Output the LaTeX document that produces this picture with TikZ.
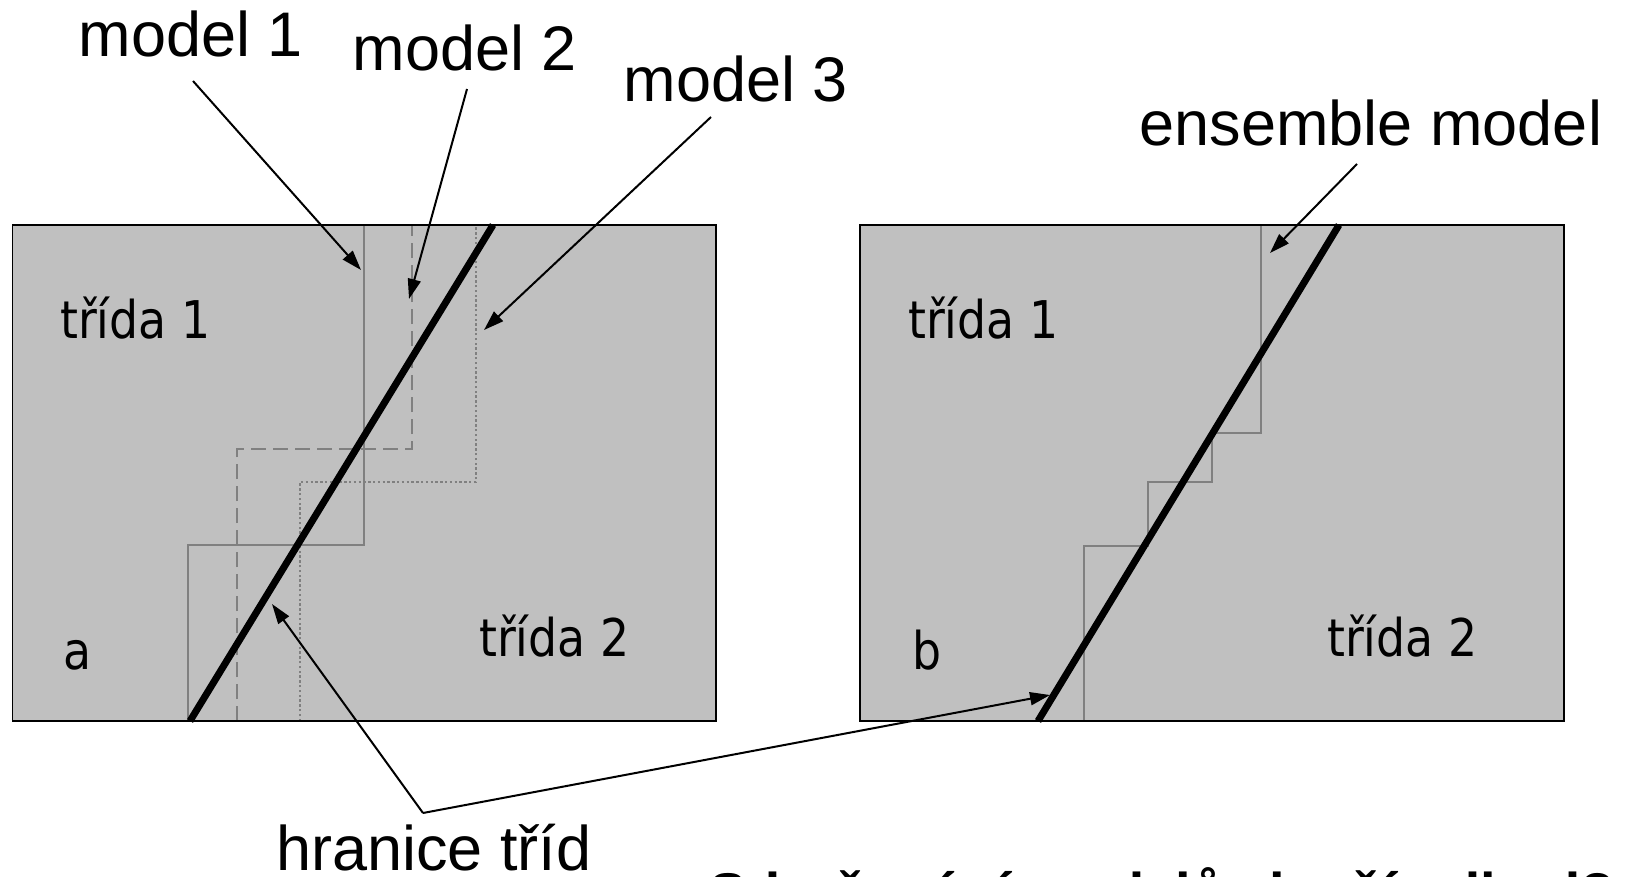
\documentclass[tikz,border=0pt]{standalone}
\usepackage{fontspec}
\setmainfont{Liberation Sans}
\newfontfamily\tahomalike[FakeStretch=0.88]{DejaVu Sans}
\usetikzlibrary{arrows.meta}
\definecolor{panelgray}{RGB}{192,192,192}
\definecolor{linegray}{RGB}{128,128,128}
\tikzset{
  lbl/.style={inner sep=0pt, anchor=base, font=\fontsize{63}{70}\selectfont},
  cls/.style={inner sep=0pt, anchor=base west, font=\tahomalike\fontsize{52}{60}\selectfont},
  panel/.style={fill=panelgray, draw=black, line width=1.5pt},
  boundary/.style={line width=7pt, black},
  modelline/.style={line width=2.8pt, linegray},
  modeldash/.style={modelline, dash pattern=on 15pt off 7pt},
  modeldot/.style={line width=2.4pt, linegray, dash pattern=on 2.4pt off 2.4pt},
  pointer/.style={line width=2pt, black, -{Triangle[length=20pt,width=13pt]}},
  plainline/.style={line width=2pt, black}
}
\begin{document}
\begin{tikzpicture}[x=1pt,y=-1pt]
\useasboundingbox (0,0) rectangle (1627,877);
\clip (0,0) rectangle (1627,877);
\fill[white] (0,0) rectangle (1627,877);
% panels
\draw[panel] (12.5,225) rectangle (716,721);
\draw[panel] (860,225) rectangle (1564,721);
% panel a: models
\draw[modelline] (188,721) -- (188,545) -- (364,545) -- (364,225);
\draw[modeldash] (237,721) -- (237,449) -- (412,449) -- (412,225);
\draw[modeldot] (300,721) -- (300,482) -- (476,482) -- (476,225);
\draw[boundary] (190,721) -- (493,225);
% panel b: ensemble
\draw[modelline] (1084,721) -- (1084,546) -- (1148,546) -- (1148,482) -- (1212,482) -- (1212,433) -- (1261,433) -- (1261,225);
\draw[boundary] (1038,721) -- (1339,225);
% borders again on top
\draw[line width=1.5pt] (12.5,225) rectangle (716,721);
\draw[line width=1.5pt] (860,225) rectangle (1564,721);
% labels
\node[lbl] (m1) at (191,57) {model 1};
\node[lbl] (m2) at (465,71) {model 2};
\node[lbl] (m3) at (736,102) {model 3};
\node[lbl] (ens) at (1371,146) {ensemble model};
\node[lbl] (hr) at (434,870) {hranice tříd};
\node[cls] (a1) at (60,338) {třída 1};
\node[cls] (a2) at (479,656) {třída 2};
\node[cls] (aa) at (63,669) {a};
\node[cls] (b1) at (908,338) {třída 1};
\node[cls] (b2) at (1327,656) {třída 2};
\node[cls] (bb) at (912,669) {b};
% connector points
\coordinate (m1s) at (193,81);
\coordinate (m1t) at (361,270);
\coordinate (m2s) at (467,89);
\coordinate (m2t) at (409,299);
\coordinate (m3s) at (711,117);
\coordinate (m3t) at (484,330);
\coordinate (ens s) at (1357,164);
\coordinate (ens t) at (1270,253);
\coordinate (hrj) at (423,813);
\coordinate (hrta) at (272,604);
\coordinate (hrtb) at (1050,695);
% arrows
\draw[pointer] (m1s) -- (m1t);
\draw[pointer] (m2s) -- (m2t);
\draw[pointer] (m3s) -- (m3t);
\draw[pointer] (ens s) -- (ens t);
\draw[pointer] (hrj) -- (hrta);
\draw[pointer] (hrj) -- (hrtb);
% cut-off bottom text
\node[inner sep=0pt, anchor=base west, font=\bfseries\fontsize{56}{60}\selectfont] (q) at (709,912) {Sdružování modelů zlepší odhad?};
\end{tikzpicture}
\end{document}
